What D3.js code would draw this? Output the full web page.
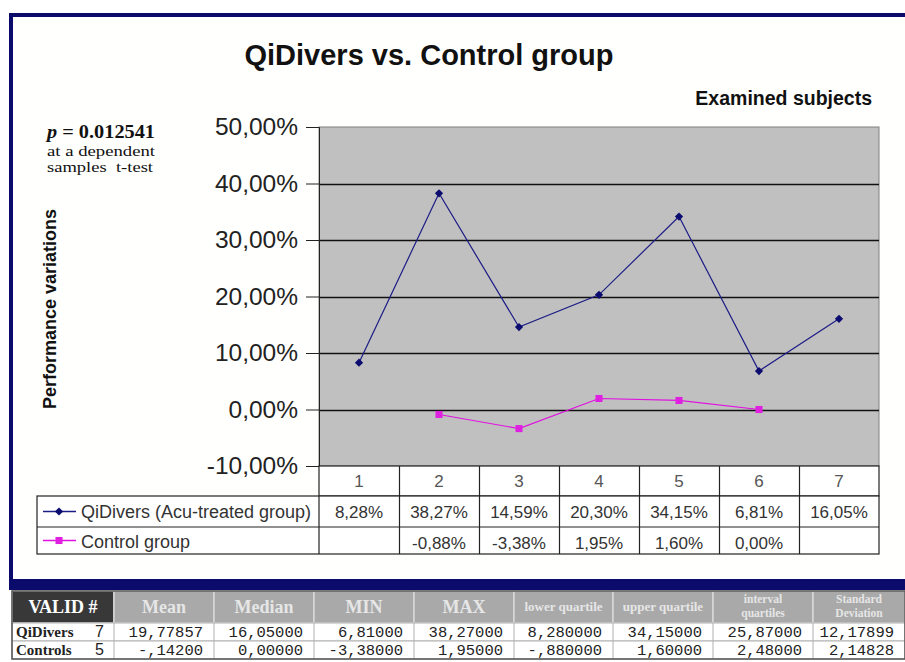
<!DOCTYPE html>
<html>
<head>
<meta charset="utf-8">
<script src="https://cdn.jsdelivr.net/npm/d3@7"></script>
<style>
  body { margin: 0; background: #fff; }
  svg { display: block; }
</style>
</head>
<body>
<div id="chart"></div>
<script>
// chart values
var categories = ["1", "2", "3", "4", "5", "6", "7"];
var qiValues = [8.28, 38.27, 14.59, 20.30, 34.15, 6.81, 16.05];
var ctrlValues = [null, -0.88, -3.38, 1.95, 1.60, 0.00, null];
var yTicks = [-10, 0, 10, 20, 30, 40, 50];
var seriesNames = ["QiDivers (Acu-treated group)", "Control group"];

// stats table below the chart
var statHeaders = ["VALID #", "Mean", "Median", "MIN", "MAX", "lower quartile", "upper quartile", "interval quartiles", "Standard Deviation"];
var statGroups = ["QiDivers", "Controls"];
var statN = [7, 5];
var statValues = [
  ["19,77857", "16,05000", "6,81000", "38,27000", "8,280000", "34,15000", "25,87000", "12,17899"],
  ["-,14200", "0,00000", "-3,38000", "1,95000", "-,880000", "1,60000", "2,48000", "2,14828"]
];

var width = 905, height = 662;
var plot = { left: 319, right: 879, top: 127, bottom: 466 };
var navy = "#0b0b6b";

var locale = d3.formatLocale({ decimal: ",", thousands: ".", grouping: [3], currency: ["", ""], minus: "-" });
var pct = function(v) { return locale.format(".2f")(v) + "%"; };

var svg = d3.select("#chart").append("svg")
  .attr("width", width)
  .attr("height", height);

svg.append("rect").attr("width", width).attr("height", height).attr("fill", "#fff");

// navy frame
svg.append("rect")
  .attr("x", 11).attr("y", 15)
  .attr("width", width + 10).attr("height", 570)
  .attr("fill", "#fffffd")
  .attr("stroke", navy).attr("stroke-width", 4);
svg.append("rect")
  .attr("x", 9).attr("y", 579)
  .attr("width", width).attr("height", 11)
  .attr("fill", navy);

var x = d3.scaleBand().domain(categories).range([plot.left, plot.right]).padding(0);
var y = d3.scaleLinear().domain([-10, 50]).range([plot.bottom, plot.top]);

// plot area
svg.append("rect")
  .attr("x", plot.left).attr("y", plot.top)
  .attr("width", plot.right - plot.left).attr("height", plot.bottom - plot.top)
  .attr("fill", "#c0c0c0")
  .attr("stroke", "#808080").attr("stroke-width", 1);

svg.append("g")
  .selectAll("line")
  .data(yTicks.filter(function(d) { return d > -10 && d < 50; }))
  .enter().append("line")
  .attr("x1", plot.left).attr("x2", plot.right)
  .attr("y1", function(d) { return Math.round(y(d)) + 0.5; })
  .attr("y2", function(d) { return Math.round(y(d)) + 0.5; })
  .attr("stroke", "#111").attr("stroke-width", 1.3);

var axisy = d3.axisLeft(y)
  .tickValues(yTicks)
  .tickSize(13)
  .tickPadding(8)
  .tickFormat(pct);

var gy = svg.append("g")
  .attr("transform", "translate(" + plot.left + ",0)")
  .call(axisy);
gy.select(".domain").attr("stroke", "#222");
gy.selectAll(".tick line").attr("stroke", "#222");
gy.selectAll(".tick text")
  .attr("font-family", "Liberation Sans, Arial, sans-serif")
  .attr("font-size", "24.5px")
  .attr("fill", "#222");

// lines
var line = d3.line()
  .defined(function(d) { return d != null; })
  .x(function(d, i) { return x(categories[i]) + x.bandwidth() / 2; })
  .y(function(d) { return y(d); });

svg.append("path")
  .datum(qiValues)
  .attr("d", line)
  .attr("fill", "none")
  .attr("stroke", "#1c1c86")
  .attr("stroke-width", 1.2);

svg.append("path")
  .datum(ctrlValues)
  .attr("d", line)
  .attr("fill", "none")
  .attr("stroke", "#e010e0")
  .attr("stroke-width", 1.2);

// diamond = square turned 45 degrees
var diamond = d3.symbol().type(d3.symbolSquare).size(34);
var square = d3.symbol().type(d3.symbolSquare).size(50);

svg.append("g").selectAll("path")
  .data(qiValues)
  .enter().append("path")
  .attr("d", diamond)
  .attr("transform", function(d, i) {
    return "translate(" + (x(categories[i]) + x.bandwidth() / 2) + "," + y(d) + ") rotate(45)";
  })
  .attr("fill", "#0c0c70");

svg.append("g").selectAll("path")
  .data(ctrlValues.map(function(v, i) { return { v: v, i: i }; }).filter(function(d) { return d.v != null; }))
  .enter().append("path")
  .attr("d", square)
  .attr("transform", function(d) {
    return "translate(" + (x(categories[d.i]) + x.bandwidth() / 2) + "," + y(d.v) + ")";
  })
  .attr("fill", "#e020e0");

// data table under the plot
var rowY = [466, 496, 527, 554];
var tableLeft = 37;
var tbl = svg.append("g").attr("font-family", "Liberation Sans, Arial, sans-serif").attr("font-size", "17px").attr("fill", "#333");

tbl.append("rect")
  .attr("x", plot.left).attr("y", rowY[0]).attr("width", plot.right - plot.left).attr("height", rowY[1] - rowY[0])
  .attr("fill", "#fff").attr("stroke", "#222").attr("stroke-width", 1.2);
tbl.append("rect")
  .attr("x", tableLeft).attr("y", rowY[1]).attr("width", plot.right - tableLeft).attr("height", rowY[3] - rowY[1])
  .attr("fill", "#fff").attr("stroke", "#222").attr("stroke-width", 1.2);
tbl.append("line")
  .attr("x1", tableLeft).attr("x2", plot.right).attr("y1", rowY[2]).attr("y2", rowY[2])
  .attr("stroke", "#222").attr("stroke-width", 1.2);
tbl.append("line")
  .attr("x1", plot.left).attr("x2", plot.left).attr("y1", rowY[1]).attr("y2", rowY[3])
  .attr("stroke", "#222").attr("stroke-width", 1.2);

tbl.selectAll(".sep")
  .data(categories.slice(1))
  .enter().append("line")
  .attr("x1", function(d) { return Math.round(x(d)) + 0.5; })
  .attr("x2", function(d) { return Math.round(x(d)) + 0.5; })
  .attr("y1", rowY[0]).attr("y2", rowY[3])
  .attr("stroke", "#222").attr("stroke-width", 1.2);

tbl.selectAll(".cat")
  .data(categories)
  .enter().append("text")
  .attr("x", function(d) { return x(d) + x.bandwidth() / 2; })
  .attr("y", rowY[0] + 21)
  .attr("text-anchor", "middle")
  .attr("fill", "#555")
  .text(function(d) { return d; });

[qiValues, ctrlValues].forEach(function(vals, r) {
  tbl.append("g").selectAll("text")
    .data(vals)
    .enter().append("text")
    .attr("x", function(d, i) { return x(categories[i]) + x.bandwidth() / 2; })
    .attr("y", rowY[r + 1] + 22)
    .attr("text-anchor", "middle")
    .text(function(d) { return d == null ? "" : pct(d); });
});

// legend keys in the table
var keyY0 = (rowY[1] + rowY[2]) / 2, keyY1 = (rowY[2] + rowY[3]) / 2;
tbl.append("line").attr("x1", 43).attr("x2", 76).attr("y1", keyY0).attr("y2", keyY0).attr("stroke", "#1c1c86").attr("stroke-width", 1.3);
tbl.append("path").attr("d", diamond).attr("transform", "translate(59," + keyY0 + ") rotate(45)").attr("fill", "#0c0c70");
tbl.append("line").attr("x1", 43).attr("x2", 76).attr("y1", keyY1).attr("y2", keyY1).attr("stroke", "#e010e0").attr("stroke-width", 1.3);
tbl.append("path").attr("d", square).attr("transform", "translate(59," + keyY1 + ")").attr("fill", "#e020e0");
tbl.append("text").attr("x", 81).attr("y", rowY[1] + 22).attr("font-size", "18px").text(seriesNames[0]);
tbl.append("text").attr("x", 81).attr("y", rowY[2] + 21).attr("font-size", "18px").text(seriesNames[1]);

// titles
svg.append("text")
  .attr("x", 429).attr("y", 65)
  .attr("text-anchor", "middle")
  .attr("font-family", "Liberation Sans, Arial, sans-serif")
  .attr("font-size", "29px").attr("font-weight", "bold").attr("fill", "#111")
  .text("QiDivers vs. Control group");

svg.append("text")
  .attr("x", 872).attr("y", 105)
  .attr("text-anchor", "end")
  .attr("font-family", "Liberation Sans, Arial, sans-serif")
  .attr("font-size", "19.5px").attr("font-weight", "bold").attr("fill", "#111")
  .text("Examined subjects");

svg.append("text")
  .attr("transform", "translate(56,309) rotate(-90)")
  .attr("text-anchor", "middle")
  .attr("font-family", "Liberation Sans, Arial, sans-serif")
  .attr("font-size", "18px").attr("font-weight", "bold").attr("fill", "#111")
  .text("Performance variations");

var pnote = svg.append("g").attr("font-family", "Liberation Serif, Times New Roman, serif").attr("fill", "#111");
var pline = pnote.append("text").attr("x", 47).attr("y", 138).attr("font-size", "18px").attr("font-weight", "bold")
  .attr("textLength", 108).attr("lengthAdjust", "spacingAndGlyphs");
pline.append("tspan").attr("font-style", "italic").text("p");
pline.append("tspan").text(" = 0.012541");
pnote.append("text").attr("x", 47).attr("y", 156).attr("font-size", "14.5px")
  .attr("textLength", 108).attr("lengthAdjust", "spacingAndGlyphs")
  .text("at a dependent");
pnote.append("text").attr("x", 47).attr("y", 172).attr("font-size", "14.5px").attr("xml:space", "preserve")
  .attr("textLength", 106).attr("lengthAdjust", "spacingAndGlyphs")
  .text("samples  t-test");

// stats table
var colX = [12, 114, 214, 314, 414, 514, 613, 713, 813, 905];
var sTop = 591, sHead = 623, sRow = 18;
var st = svg.append("g");

st.selectAll(".hcell")
  .data(statHeaders)
  .enter().append("rect")
  .attr("x", function(d, i) { return colX[i]; })
  .attr("y", sTop)
  .attr("width", function(d, i) { return colX[i + 1] - colX[i]; })
  .attr("height", sHead - sTop)
  .attr("fill", function(d, i) { return i == 0 ? "#383838" : "#a9a9a9"; })
  .attr("stroke", "#d8d8d8").attr("stroke-width", 1.5);

// header labels; the last two are split on two lines, each its own text
var headLines = [];
statHeaders.forEach(function(d, i) {
  var cx = (colX[i] + colX[i + 1]) / 2;
  if (i >= 7) {
    var words = d.split(" ");
    headLines.push({ t: words[0], x: cx, y: sTop + 12, s: "11.5px", i: i });
    headLines.push({ t: words[1], x: cx, y: sTop + 26, s: "11.5px", i: i });
  } else if (i >= 5) {
    headLines.push({ t: d, x: cx, y: sTop + 20, s: "13px", i: i });
  } else {
    headLines.push({ t: d, x: cx, y: sTop + 22, s: "18px", i: i });
  }
});

st.selectAll(".htext")
  .data(headLines)
  .enter().append("text")
  .attr("x", function(d) { return d.x; })
  .attr("y", function(d) { return d.y; })
  .attr("text-anchor", "middle")
  .attr("font-family", "Liberation Serif, Times New Roman, serif")
  .attr("font-weight", "bold")
  .attr("fill", function(d) { return d.i == 0 ? "#fff" : "#e6e6e6"; })
  .attr("font-size", function(d) { return d.s; })
  .text(function(d) { return d.t; });

statGroups.forEach(function(g, r) {
  var yTop = sHead + r * sRow;
  st.append("rect")
    .attr("x", colX[0]).attr("y", yTop).attr("width", width - colX[0]).attr("height", sRow)
    .attr("fill", "#fff").attr("stroke", "#b0b0b0").attr("stroke-width", 1);
  st.append("text")
    .attr("x", 16).attr("y", yTop + 14)
    .attr("font-family", "Liberation Serif, Times New Roman, serif")
    .attr("font-weight", "bold").attr("font-size", "15px").attr("fill", "#222")
    .text(g);
  st.append("text")
    .attr("x", 104).attr("y", yTop + 14)
    .attr("text-anchor", "end")
    .attr("font-family", "Liberation Sans, Arial, sans-serif")
    .attr("font-size", "16px").attr("fill", "#222")
    .text(statN[r]);
  st.append("g").selectAll("text")
    .data(statValues[r])
    .enter().append("text")
    .attr("x", function(d, i) { return colX[i + 2] - 11; })
    .attr("y", yTop + 14)
    .attr("text-anchor", "end")
    .attr("font-family", "Liberation Mono, DejaVu Sans Mono, monospace")
    .attr("font-size", "15.5px").attr("fill", "#222")
    .text(function(d) { return d; });
});

st.selectAll(".vsep")
  .data(colX.slice(1, -1))
  .enter().append("line")
  .attr("x1", function(d) { return d; }).attr("x2", function(d) { return d; })
  .attr("y1", sHead).attr("y2", sHead + 2 * sRow)
  .attr("stroke", "#b0b0b0");

st.append("rect")
  .attr("x", colX[0]).attr("y", sTop).attr("width", width - colX[0]).attr("height", sHead + 2 * sRow - sTop)
  .attr("fill", "none").attr("stroke", "#555").attr("stroke-width", 1.5);
</script>
</body>
</html>
